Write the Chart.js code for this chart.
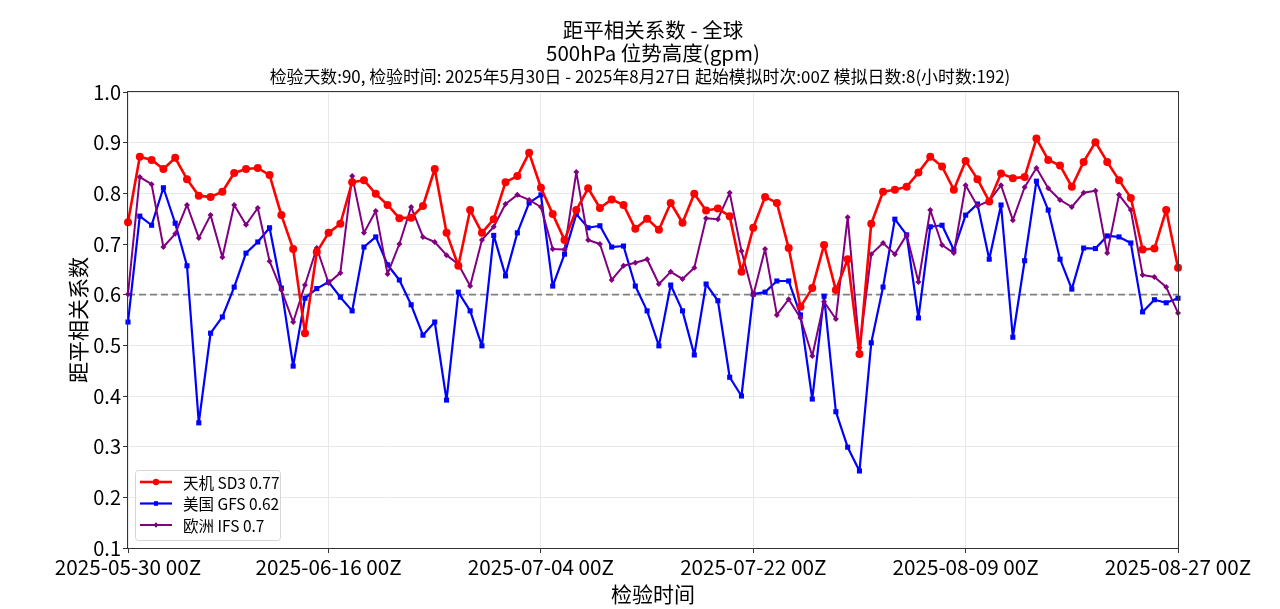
<!DOCTYPE html>
<html>
<head>
<meta charset="utf-8">
<script src="https://cdn.jsdelivr.net/npm/chart.js@4.4.1/dist/chart.umd.min.js"></script>
<style>
  html, body { margin: 0; padding: 0; background: #fff; }
  #c { display: block; }
</style>
</head>
<body>
<canvas id="c" width="1280" height="609"></canvas>
<script>
const FONT = '"Noto Sans CJK SC", "DejaVu Sans", sans-serif';

// 90 verification days, 2025-05-30 .. 2025-08-27
const startDay = Date.UTC(2025, 4, 30);
const dayCount = 90;
const dates = [];
for (let i = 0; i < dayCount; i++) {
  const d = new Date(startDay + i * 86400000);
  dates.push(d.toISOString().slice(0, 10) + ' 00Z');
}

const tickLabels = ['2025-05-30 00Z', '2025-06-16 00Z', '2025-07-04 00Z',
                    '2025-07-22 00Z', '2025-08-09 00Z', '2025-08-27 00Z'];
const yTicks = [0.1, 0.2, 0.3, 0.4, 0.5, 0.6, 0.7, 0.8, 0.9, 1.0];
const refLine = 0.6;

const seriesNames = ['天机 SD3 0.77', '美国 GFS 0.62', '欧洲 IFS 0.7'];

const sd3 = [0.743,0.872,0.866,0.848,0.870,0.828,0.795,0.793,0.803,0.840,
  0.848,0.850,0.836,0.757,0.690,0.524,0.684,0.722,0.740,0.822,
  0.826,0.799,0.777,0.751,0.752,0.775,0.848,0.722,0.657,0.767,
  0.722,0.749,0.822,0.834,0.880,0.811,0.759,0.708,0.767,0.810,
  0.771,0.788,0.777,0.730,0.750,0.728,0.781,0.742,0.799,0.766,
  0.770,0.755,0.645,0.732,0.793,0.781,0.692,0.576,0.613,0.698,
  0.609,0.670,0.483,0.740,0.803,0.807,0.813,0.841,0.872,0.853,
  0.807,0.864,0.828,0.784,0.839,0.830,0.832,0.908,0.866,0.855,
  0.813,0.862,0.901,0.862,0.826,0.791,0.689,0.691,0.767,0.653];

const gfs = [0.546,0.755,0.737,0.811,0.741,0.657,0.347,0.524,0.556,0.615,
  0.682,0.704,0.732,0.613,0.459,0.593,0.612,0.625,0.595,0.568,
  0.694,0.714,0.659,0.629,0.580,0.520,0.546,0.392,0.605,0.568,
  0.499,0.717,0.637,0.722,0.781,0.797,0.617,0.680,0.759,0.732,
  0.736,0.694,0.696,0.617,0.568,0.499,0.619,0.568,0.481,0.621,
  0.588,0.437,0.400,0.601,0.605,0.627,0.627,0.560,0.394,0.597,
  0.369,0.299,0.252,0.505,0.615,0.749,0.718,0.554,0.734,0.737,
  0.688,0.757,0.779,0.670,0.777,0.516,0.667,0.824,0.767,0.670,
  0.611,0.692,0.691,0.716,0.714,0.702,0.566,0.590,0.584,0.593];

const ifs = [0.601,0.832,0.818,0.694,0.720,0.777,0.712,0.757,0.674,0.777,
  0.738,0.771,0.666,0.609,0.546,0.619,0.692,0.623,0.643,0.834,
  0.722,0.765,0.641,0.700,0.773,0.714,0.704,0.678,0.660,0.617,
  0.708,0.734,0.779,0.797,0.787,0.773,0.690,0.689,0.842,0.708,
  0.700,0.629,0.657,0.663,0.670,0.621,0.645,0.631,0.653,0.751,
  0.749,0.801,0.686,0.599,0.690,0.560,0.591,0.554,0.479,0.586,
  0.552,0.753,0.495,0.680,0.702,0.680,0.718,0.625,0.767,0.698,
  0.682,0.816,0.775,0.785,0.816,0.747,0.812,0.850,0.810,0.787,
  0.773,0.801,0.805,0.682,0.797,0.767,0.639,0.635,0.615,0.564];

const titleLines = ['距平相关系数 - 全球', '500hPa 位势高度(gpm)'];
const subTitle = '检验天数:90, 检验时间: 2025年5月30日 - 2025年8月27日 起始模拟时次:00Z 模拟日数:8(小时数:192)';

Chart.defaults.font.family = FONT;
Chart.defaults.color = '#000';

// dashed reference line, frame, titles, legend
const decor = {
  id: 'decor',
  beforeDatasetsDraw(chart) {
    const { ctx, chartArea: a, scales } = chart;
    const y = scales.y.getPixelForValue(refLine);
    ctx.save();
    ctx.strokeStyle = '#808080';
    ctx.lineWidth = 1.6;
    ctx.setLineDash([7, 4]);
    ctx.beginPath();
    ctx.moveTo(a.left, y);
    ctx.lineTo(a.right, y);
    ctx.stroke();
    ctx.restore();
  },
  afterDraw(chart) {
    const { ctx, chartArea: a } = chart;
    ctx.save();
    ctx.strokeStyle = '#333';
    ctx.lineWidth = 1;
    ctx.strokeRect(a.left - 0.5, a.top - 0.5, a.right - a.left + 1, a.bottom - a.top + 1);

    // two title lines sit over the plot, the run info line over the whole figure
    const cx = (a.left + a.right) / 2;
    ctx.fillStyle = '#000';
    ctx.textAlign = 'center';
    ctx.textBaseline = 'middle';
    ctx.font = '20.5px ' + FONT;
    ctx.fillText(titleLines[0], cx, 30);
    ctx.fillText(titleLines[1], cx, 53);
    ctx.font = '16.9px ' + FONT;
    ctx.fillText(subTitle, chart.width / 2, 77);

    // legend box
    const bx = a.left + 7, by = a.bottom - 78, bw = 145, bh = 70;
    ctx.beginPath();
    ctx.roundRect(bx + 0.5, by + 0.5, bw, bh, 3);
    ctx.fillStyle = 'rgba(255,255,255,0.85)';
    ctx.fill();
    ctx.strokeStyle = '#d6d6d6';
    ctx.stroke();
    ctx.textAlign = 'left';
    ctx.font = '15.5px ' + FONT;
    chart.data.datasets.forEach((ds, i) => {
      const ry = by + 12 + i * 21.5;
      ctx.strokeStyle = ds.borderColor;
      ctx.lineWidth = ds.borderWidth;
      ctx.beginPath();
      ctx.moveTo(bx + 5, ry);
      ctx.lineTo(bx + 37, ry);
      ctx.stroke();
      Chart.helpers.drawPoint(ctx, {
        pointStyle: ds.pointStyle, radius: ds.pointRadius * 0.8, rotation: 0, borderWidth: 0
      }, bx + 21, ry);
      ctx.fillStyle = ds.borderColor;
      ctx.fill();
      ctx.fillStyle = '#000';
      ctx.fillText(ds.label, bx + 48, ry + 1);
    });
    ctx.restore();
  }
};

new Chart(document.getElementById('c'), {
  type: 'line',
  data: {
    labels: dates,
    datasets: [
      { label: seriesNames[0], data: sd3, borderColor: '#ff0000', backgroundColor: '#ff0000',
        borderWidth: 2.6, pointStyle: 'circle', pointRadius: 4, pointBorderWidth: 0, order: 1 },
      { label: seriesNames[1], data: gfs, borderColor: '#0000ff', backgroundColor: '#0000ff',
        borderWidth: 2.2, pointStyle: 'rect', pointRadius: 3.6, pointBorderWidth: 0, order: 3 },
      { label: seriesNames[2], data: ifs, borderColor: '#800080', backgroundColor: '#800080',
        borderWidth: 2, pointStyle: 'rectRot', pointRadius: 3, pointBorderWidth: 0, order: 2 }
    ]
  },
  options: {
    responsive: false,
    animation: false,
    devicePixelRatio: 1,
    layout: { padding: { left: 61, right: 102, top: 92, bottom: 0 } },
    plugins: { legend: { display: false }, tooltip: { enabled: false }, title: { display: false } },
    elements: { line: { tension: 0, borderJoinStyle: 'round', borderCapStyle: 'round' } },
    scales: {
      x: {
        type: 'category',
        offset: false,
        border: { display: false },
        grid: { color: '#e8e8e8', tickColor: '#333', tickLength: 5, lineWidth: 1 },
        ticks: {
          autoSkip: false, maxRotation: 0, padding: 2,
          font: { size: 20.7 }, color: '#000',
          callback(value) {
            const l = this.getLabelForValue(value);
            return tickLabels.includes(l) ? l : null;
          }
        },
        title: { display: true, text: '检验时间', font: { size: 21 }, padding: { top: 0, bottom: 2 } },
        afterFit(s) { s.height = 61; }
      },
      y: {
        min: 0.1, max: 1.0,
        border: { display: false },
        grid: { color: '#e8e8e8', tickColor: '#333', tickLength: 5 },
        afterBuildTicks(s) { s.ticks = yTicks.map(v => ({ value: v })); },
        ticks: { font: { size: 20 }, color: '#000', padding: 2, callback: v => v.toFixed(1) },
        title: { display: true, text: '距平相关系数', font: { size: 21 }, padding: { top: 4, bottom: 4 } },
        afterFit(s) { s.width = 67; }
      }
    }
  },
  plugins: [decor]
});
</script>
</body>
</html>
